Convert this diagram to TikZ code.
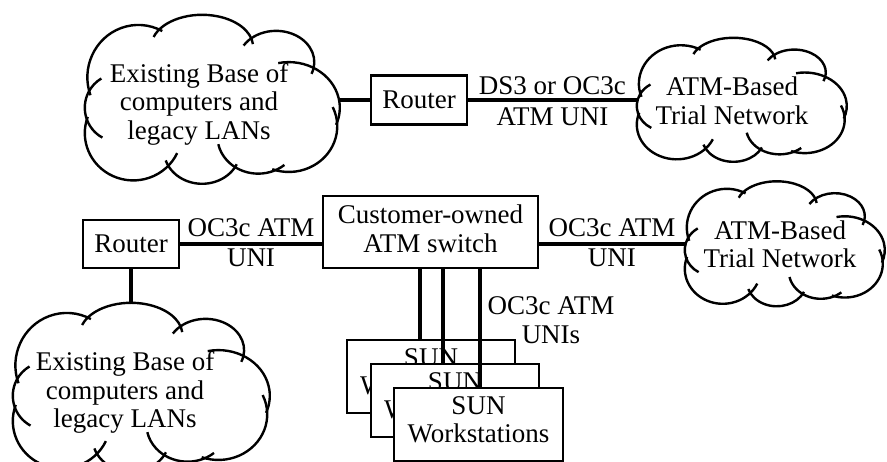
\documentclass[tikz,border=0pt]{standalone}
\usepackage{fontspec}
\setmainfont{Liberation Serif}
\usepackage{tikz}

\newcommand{\cloudarc}[6]{\draw ({#1+#3*cos(#5)},{#2+#4*sin(#5)}) arc [start angle = #5, end angle = #6, x radius = #3, y radius = #4];}
\newcommand{\cloudshape}[3]{%
    \begin{scope}[shift = {(#1.north west)}, xscale = #2, yscale = #3, line width = 2.4pt]
        \cloudarc{0.21}{0.37}{0.20}{0.31}{160}{298}
        \cloudarc{0.46}{0.19}{0.20}{0.19}{198}{355}
        \cloudarc{0.75}{0.28}{0.15}{0.185}{212}{382}
        \cloudarc{0.80}{0.55}{0.20}{0.27}{258}{382}
        \cloudarc{0.80}{0.66}{0.19}{0.27}{-25}{110}
        \cloudarc{0.68}{0.72}{0.16}{0.22}{50}{168}
        \cloudarc{0.46}{0.80}{0.15}{0.20}{25}{162}
        \cloudarc{0.19}{0.70}{0.19}{0.28}{25}{200}
        \cloudarc{0.13}{0.55}{0.13}{0.20}{118}{240}
    \end{scope}}

\begin{document}
\begin{tikzpicture}[x = 1pt, y = -1pt,
    font = \fontsize{27}{28.5}\selectfont,
    box/.style = {draw, fill = white, line width = 2.2pt, align = center, inner sep = 0pt},
    cloudbox/.style = {inner sep = 0pt},
    link/.style = {line width = 3.2pt},
    lbl/.style = {inner sep = 0pt}]
    \useasboundingbox (0,0) rectangle (887,462);
    \clip (0,0) rectangle (887,462);

    % top row
    \node[cloudbox, minimum width = 255, minimum height = 169] (B1) at (212.5,99.5) {};
    \node[align = center] (B1t) at (199,104) {Existing Base of\\computers and\\legacy LANs};
    \cloudshape{B1}{255}{169}
    \node[box, minimum width = 96, minimum height = 49] (R1) at (419,100) {Router};
    \node[cloudbox, minimum width = 210, minimum height = 124] (T1) at (742,100) {};
    \node[align = center] (T1t) at (732,101) {ATM-Based\\Trial Network};
    \cloudshape{T1}{210}{124}
    \draw[link] (B1.east |- R1.west) -- (R1.west);
    \draw[link] (R1.east) -- (R1.east -| T1.west)
        node[lbl, midway, above = 4pt] {DS3 or OC3c}
        node[lbl, midway, below = 6pt] {ATM UNI};

    % bottom row
    \node[box, minimum width = 96, minimum height = 48] (R2) at (131,244) {Router};
    \node[box, minimum width = 215, minimum height = 72, text depth = 7pt] (S) at (430.5,232) {Customer-owned\\ATM switch};
    \node[cloudbox, minimum width = 200, minimum height = 125] (T2) at (785,244) {};
    \node[align = center] (T2t) at (780,244.5) {ATM-Based\\Trial Network};
    \cloudshape{T2}{200}{125}
    \node[cloudbox, minimum width = 257, minimum height = 169] (B2) at (141.5,387.5) {};
    \node[align = center] (B2t) at (125,392.5) {Existing Base of\\computers and\\legacy LANs};
    \cloudshape{B2}{257}{169}
    \draw[link] (R2.east) -- (R2.east -| S.west)
        node[lbl, midway, above = 6pt] {OC3c ATM}
        node[lbl, midway, below = 3pt] {UNI};
    \draw[link] (T2.west -| S.east) -- (T2.west)
        node[lbl, midway, above = 6pt] {OC3c ATM}
        node[lbl, midway, below = 3pt] {UNI};
    \draw[link] (R2.south) -- (R2.south |- B2.north);

    % workstations
    \node[box, minimum width = 168, minimum height = 73, text depth = 10pt] (W1) at (431,376.5) {SUN\\Workstations};
    \draw[link] ([xshift = -10.5pt]S.south) -- ([xshift = -10.5pt]S.south |- W1.north);
    \node[box, minimum width = 168, minimum height = 73, text depth = 10pt] (W2) at (455,400.5) {SUN\\Workstations};
    \draw[link] ([xshift = 12.5pt]S.south) -- ([xshift = 12.5pt]S.south |- W2.north);
    \node[box, minimum width = 169, minimum height = 73, text depth = 10pt] (W3) at (478.5,424.5) {SUN\\Workstations};
    \draw[link] ([xshift = 49.5pt]S.south) -- ([xshift = 49.5pt]S.south |- W3.north);
    \node[align = center] (U) at (551,320) {OC3c ATM\\UNIs};
\end{tikzpicture}
\end{document}
